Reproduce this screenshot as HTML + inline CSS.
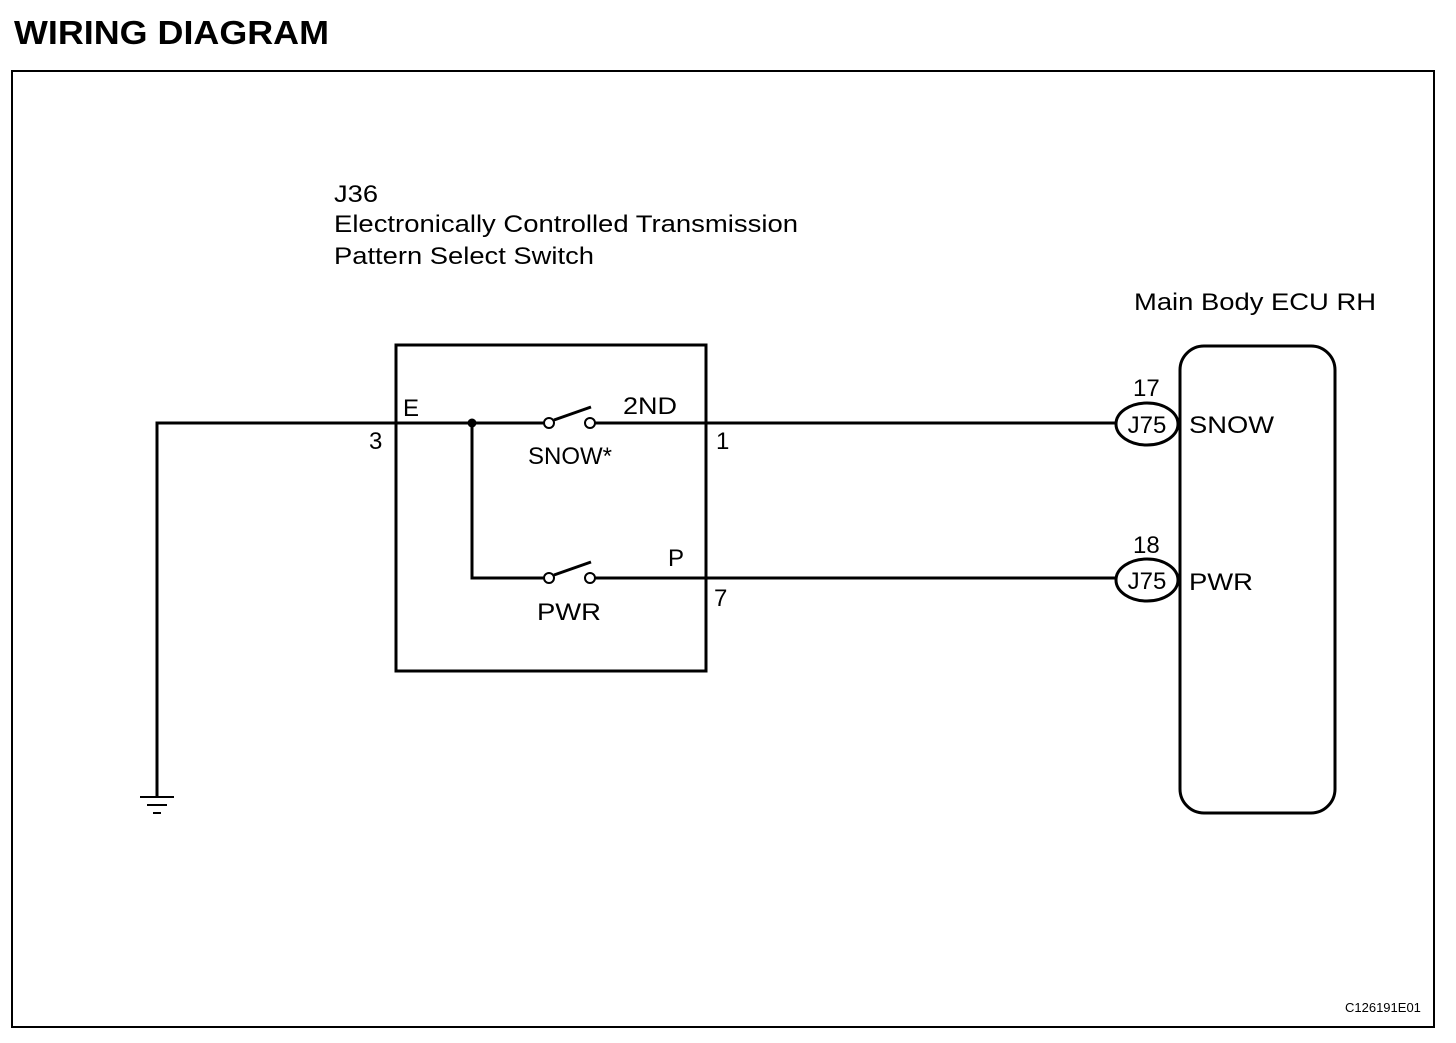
<!DOCTYPE html>
<html><head><style>
body{margin:0;background:#fff;}
svg text{font-family:"Liberation Sans",Arial,sans-serif;fill:#000;}
</style></head><body>
<svg width="1456" height="1038" viewBox="0 0 1456 1038" xmlns="http://www.w3.org/2000/svg">
<text x="14" y="44" font-size="33" font-weight="bold" textLength="315" lengthAdjust="spacingAndGlyphs">WIRING DIAGRAM</text>
<rect x="12" y="71" width="1422" height="956" fill="none" stroke="#000" stroke-width="2"/>
<text x="334" y="202" font-size="24" textLength="44" lengthAdjust="spacingAndGlyphs">J36</text>
<text x="334" y="232" font-size="24" textLength="464" lengthAdjust="spacingAndGlyphs">Electronically Controlled Transmission</text>
<text x="334" y="264" font-size="24" textLength="260" lengthAdjust="spacingAndGlyphs">Pattern Select Switch</text>
<text x="1134" y="310" font-size="24" textLength="242" lengthAdjust="spacingAndGlyphs">Main Body ECU RH</text>
<rect x="396" y="345" width="310" height="326" fill="none" stroke="#000" stroke-width="3"/>
<g stroke="#000" stroke-width="3" fill="none">
<polyline points="157,797 157,423 544,423"/>
<line x1="595" y1="423" x2="1116" y2="423"/>
<polyline points="472,423 472,578 544,578"/>
<line x1="595" y1="578" x2="1116" y2="578"/>
<line x1="554" y1="420" x2="591" y2="407"/>
<line x1="554" y1="575" x2="591" y2="562"/>
<line x1="140" y1="797" x2="174" y2="797" stroke-width="2"/>
<line x1="147" y1="805" x2="167" y2="805" stroke-width="2"/>
<line x1="153" y1="813" x2="161" y2="813" stroke-width="2"/>
<rect x="1180" y="346" width="155" height="467" rx="24" ry="24"/>
</g>
<g stroke="#000" stroke-width="2" fill="#fff">
<circle cx="549" cy="423" r="5"/><circle cx="590" cy="423" r="5"/>
<circle cx="549" cy="578" r="5"/><circle cx="590" cy="578" r="5"/>
</g>
<circle cx="472" cy="423" r="4.5" fill="#000"/>
<g stroke="#000" stroke-width="3" fill="#fff">
<ellipse cx="1147" cy="424" rx="31" ry="21"/>
<ellipse cx="1147" cy="580" rx="31" ry="21"/>
</g>
<g font-size="24">
<text x="403" y="416">E</text>
<text x="369" y="449">3</text>
<text x="623" y="414" textLength="54" lengthAdjust="spacingAndGlyphs">2ND</text>
<text x="528" y="464" textLength="84" lengthAdjust="spacingAndGlyphs">SNOW*</text>
<text x="716" y="449">1</text>
<text x="668" y="566">P</text>
<text x="537" y="620" textLength="64" lengthAdjust="spacingAndGlyphs">PWR</text>
<text x="714" y="606">7</text>
<text x="1133" y="396">17</text>
<text x="1133" y="553">18</text>
<text x="1147" y="433" text-anchor="middle">J75</text>
<text x="1147" y="589" text-anchor="middle">J75</text>
<text x="1189" y="433" textLength="85" lengthAdjust="spacingAndGlyphs">SNOW</text>
<text x="1189" y="590" textLength="64" lengthAdjust="spacingAndGlyphs">PWR</text>
</g>
<text x="1345" y="1012" font-size="13">C126191E01</text>
</svg>
</body></html>
